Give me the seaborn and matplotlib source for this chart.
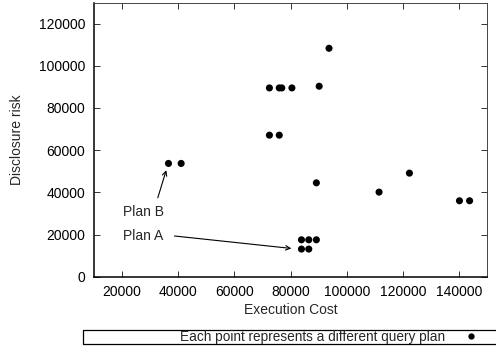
import matplotlib
matplotlib.use("Agg")
import matplotlib.pyplot as plt
import seaborn as sns
import pandas as pd
from matplotlib.lines import Line2D
from matplotlib.patches import Rectangle

# Data
execution_cost = [36600, 41100, 72500, 76000, 76900, 80500, 90200, 93700,
                  72500, 76000, 89200, 111500, 122300, 140100, 143700,
                  83900, 86500, 89200, 83900, 86500]
disclosure_risk = [53700, 53700, 89500, 89500, 89500, 89500, 90300, 108300,
                   67100, 67100, 44500, 40100, 49100, 36000, 36000,
                   17500, 17500, 17500, 13100, 13100]
x_ticks = [20000, 40000, 60000, 80000, 100000, 120000, 140000]
y_ticks = [0, 20000, 40000, 60000, 80000, 100000, 120000]
legend_label = "Each point represents a different query plan"

df = pd.DataFrame({"Execution Cost": execution_cost, "Disclosure risk": disclosure_risk})

sns.set_style("white")
plt.rcParams["font.family"] = ["Liberation Sans", "DejaVu Sans"]
plt.rcParams["font.size"] = 10

fig = plt.figure(figsize=(4.96, 3.47), dpi=100)
ax = fig.add_axes([93.7 / 496, 1 - 276.7 / 347, (487.3 - 93.7) / 496, (276.7 - 2.5) / 347])

sns.scatterplot(data=df, x="Execution Cost", y="Disclosure risk", ax=ax,
                color="black", s=26, edgecolor="none", legend=False)

ax.set_xlim(10000, 150000)
ax.set_ylim(0, 130000)
ax.set_xticks(x_ticks)
ax.set_yticks(y_ticks)
ax.set_xticklabels([str(v) for v in x_ticks])
ax.set_yticklabels([str(v) for v in y_ticks])
ax.tick_params(direction="in", length=4, width=0.7, color="#333333",
               bottom=True, left=True, top=True, right=True,
               labelsize=10, labelcolor="black", pad=6)
ax.set_xlabel("Execution Cost", fontsize=10, labelpad=3)
ax.set_ylabel("Disclosure risk", fontsize=10, labelpad=11)

for side in ["left", "bottom"]:
    ax.spines[side].set_linewidth(1.1)
    ax.spines[side].set_color("black")
for side in ["top", "right"]:
    ax.spines[side].set_linewidth(0.7)
    ax.spines[side].set_color("#444444")

# Annotations
ax.annotate("", xy=(35800, 50500), xytext=(32800, 37400),
            arrowprops=dict(arrowstyle="->", color="black", lw=0.8,
                            shrinkA=0, shrinkB=0, mutation_scale=8))
ax.annotate("", xy=(80300, 13400), xytext=(38750, 19300),
            arrowprops=dict(arrowstyle="->", color="black", lw=0.8,
                            shrinkA=0, shrinkB=0, mutation_scale=8))
ax.text(20500, 30500, "Plan B", fontsize=10, ha="left", va="center")
ax.text(20500, 19300, "Plan A", fontsize=10, ha="left", va="center")

# Legend box at bottom (extends past the right edge)
rect = Rectangle((83 / 496, 1 - 344 / 347), (500 - 83) / 496, 14 / 347,
                 transform=fig.transFigure, fill=False, edgecolor="black",
                 linewidth=0.9, clip_on=False)
fig.patches.append(rect)
handle = Line2D([], [], marker="o", color="black", linestyle="none", markersize=3.5)
fig.legend([handle], [legend_label], loc="center right",
           bbox_to_anchor=(478 / 496, 1 - 337 / 347), frameon=False,
           markerfirst=False, fontsize=9.8, handlelength=1.0,
           handletextpad=1.4, borderpad=0, borderaxespad=0)

fig.savefig("out.png", dpi=100)
